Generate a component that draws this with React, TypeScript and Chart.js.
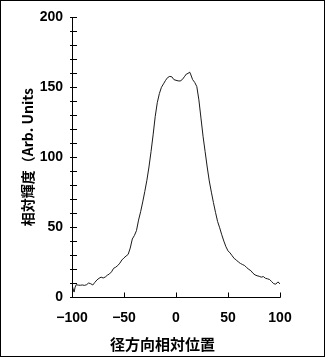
import React, { useEffect, useRef } from "react";
import { Chart, registerables } from "chart.js";

Chart.register(...registerables);

const positions = [
  -100, -99, -98, -97, -96, -94, -92, -90, -88, -86, -84, -82, -80, -78, -76, -74, -72, -70,
  -68, -66, -64, -62, -60, -58, -56, -54, -52, -50, -48, -46, -44, -42, -40, -38, -36, -34,
  -32, -30, -28, -26, -24, -22, -20, -18, -16, -14, -12, -10, -8, -6, -4, -2, 0, 2, 4, 6, 8,
  10, 12, 13, 14, 16, 18, 20, 22, 24, 26, 28, 30, 32, 34, 36, 38, 40, 42, 44, 46, 48, 50, 52,
  54, 56, 58, 60, 62, 64, 66, 68, 70, 72, 74, 76, 78, 80, 82, 84, 86, 88, 90, 92, 94, 96, 98,
  100,
];

const intensity = [
  8.5, 6, 3.5, 7, 8.8, 8.5, 8.4, 8.6, 8.3, 8.8, 10.0, 9.5, 8.6, 10.5, 12.2, 13.4, 14.2, 13.6,
  14.3, 15.6, 16.5, 18.0, 20.5, 21.3, 22.5, 24.2, 26.5, 28.0, 29.3, 30.5, 35.0, 41.5, 44.0,
  47.5, 55.0, 61.0, 68.0, 75.5, 83.5, 93.0, 104.0, 116.0, 129.0, 139.0, 145.5, 150.0, 152.5,
  155.0, 157.0, 157.8, 157.5, 155.5, 155.0, 154.6, 154.5, 155.5, 157.5, 159.5, 160.0, 161.0,
  159.5, 155.5, 153.5, 150.5, 141.0, 128.0, 115.0, 104.0, 93.0, 83.0, 75.0, 67.5, 60.5, 54.0,
  49.5, 44.5, 40.0, 36.0, 33.0, 31.5, 29.5, 27.5, 26.5, 25.0, 24.0, 23.2, 22.5, 21.0, 19.8,
  18.8, 17.0, 15.8, 15.2, 14.8, 14.2, 14.6, 13.4, 13.0, 12.5, 11.0, 9.5, 9.2, 10.8, 9.4,
];

const xTickValues = [-100, -50, 0, 50, 100];
const yTickValues = [0, 50, 100, 150, 200];
const yMinorTicks = [0, 10, 20, 30, 40, 50, 60, 70, 80, 90, 100, 110, 120, 130, 140, 150, 160, 170, 180, 190, 200];
const xTitle = "径方向相対位置";
const yTitle = "相対輝度（Arb. Units";

const tickFont = { family: "'Liberation Sans', Arial, sans-serif", size: 14, weight: "bold" as const };

const decorPlugin = {
  id: "decor",
  afterDraw(chart: any) {
    const { ctx } = chart;
    const xs = chart.scales.x;
    const ys = chart.scales.y;
    const x0 = Math.round(xs.getPixelForValue(xTickValues[0])) + 0.5;
    const xR = Math.round(xs.getPixelForValue(xTickValues[xTickValues.length - 1])) + 0.5;
    const yB = Math.round(ys.getPixelForValue(yTickValues[0])) + 0.5;
    const yT = Math.round(ys.getPixelForValue(yTickValues[yTickValues.length - 1])) + 0.5;
    ctx.save();
    ctx.strokeStyle = "#000";
    ctx.lineWidth = 1;
    ctx.beginPath();
    ctx.moveTo(x0, yT);
    ctx.lineTo(x0, yB);
    ctx.lineTo(xR, yB);
    for (const v of yMinorTicks) {
      const y = Math.round(ys.getPixelForValue(v)) + 0.5;
      ctx.moveTo(x0 - 2.5, y);
      ctx.lineTo(x0 + 4.5, y);
    }
    for (const v of xTickValues) {
      const x = Math.round(xs.getPixelForValue(v)) + 0.5;
      ctx.moveTo(x, yB);
      ctx.lineTo(x, yB - 5);
    }
    ctx.stroke();
    ctx.strokeRect(0.5, 0.5, chart.width - 1, chart.height - 1);
    ctx.font = "bold 15px 'Noto Sans CJK JP', sans-serif";
    ctx.textAlign = "center";
    ctx.textBaseline = "middle";
    ctx.fillStyle = "#000";
    ctx.fillText(xTitle, chart.width / 2, 344);
    ctx.restore();
  },
};

export default function App() {
  const canvasRef = useRef<HTMLCanvasElement | null>(null);

  useEffect(() => {
    if (!canvasRef.current) return;
    const chart = new Chart(canvasRef.current, {
      type: "line",
      data: {
        datasets: [
          {
            data: positions.map((p, i) => ({ x: p, y: intensity[i] })),
            borderColor: "#1a1a1a",
            borderWidth: 1,
            pointRadius: 0,
            tension: 0,
            fill: false,
          },
        ],
      },
      options: {
        animation: false,
        responsive: false,
        maintainAspectRatio: false,
        devicePixelRatio: 1,
        layout: { padding: { left: 0, top: 16, right: 45, bottom: 0 } },
        plugins: { legend: { display: false }, tooltip: { enabled: false }, title: { display: false } },
        scales: {
          x: {
            type: "linear",
            min: -100,
            max: 100,
            grid: { display: false, drawTicks: false },
            border: { display: false },
            afterBuildTicks: (scale: any) => {
              scale.ticks = xTickValues.map((v) => ({ value: v }));
            },
            afterFit: (scale: any) => {
              scale.height = 60;
            },
            ticks: {
              color: "#000",
              font: tickFont,
              padding: 13,
              maxRotation: 0,
              autoSkip: false,
              callback: (v: any) => (Number(v) < 0 ? "\u2212" + Math.abs(Number(v)) : String(v)),
            },
          },
          y: {
            type: "linear",
            min: 0,
            max: 200,
            grid: { display: false, drawTicks: false },
            border: { display: false },
            afterBuildTicks: (scale: any) => {
              scale.ticks = yTickValues.map((v) => ({ value: v }));
            },
            afterFit: (scale: any) => {
              scale.width = 72;
            },
            ticks: { color: "#000", font: tickFont, padding: 9 },
            title: {
              display: true,
              text: yTitle,
              color: "#000",
              font: { family: "'Noto Sans CJK JP', sans-serif", size: 14, weight: "bold" },
              padding: { top: 19, bottom: 0 },
            },
          },
        },
      },
      plugins: [decorPlugin],
    });
    return () => chart.destroy();
  }, []);

  return (
    <div style={{ position: "fixed", left: 0, top: 0, width: 325, height: 357, background: "#fff" }}>
      <canvas ref={canvasRef} width={325} height={357} style={{ display: "block", width: 325, height: 357 }} />
    </div>
  );
}
